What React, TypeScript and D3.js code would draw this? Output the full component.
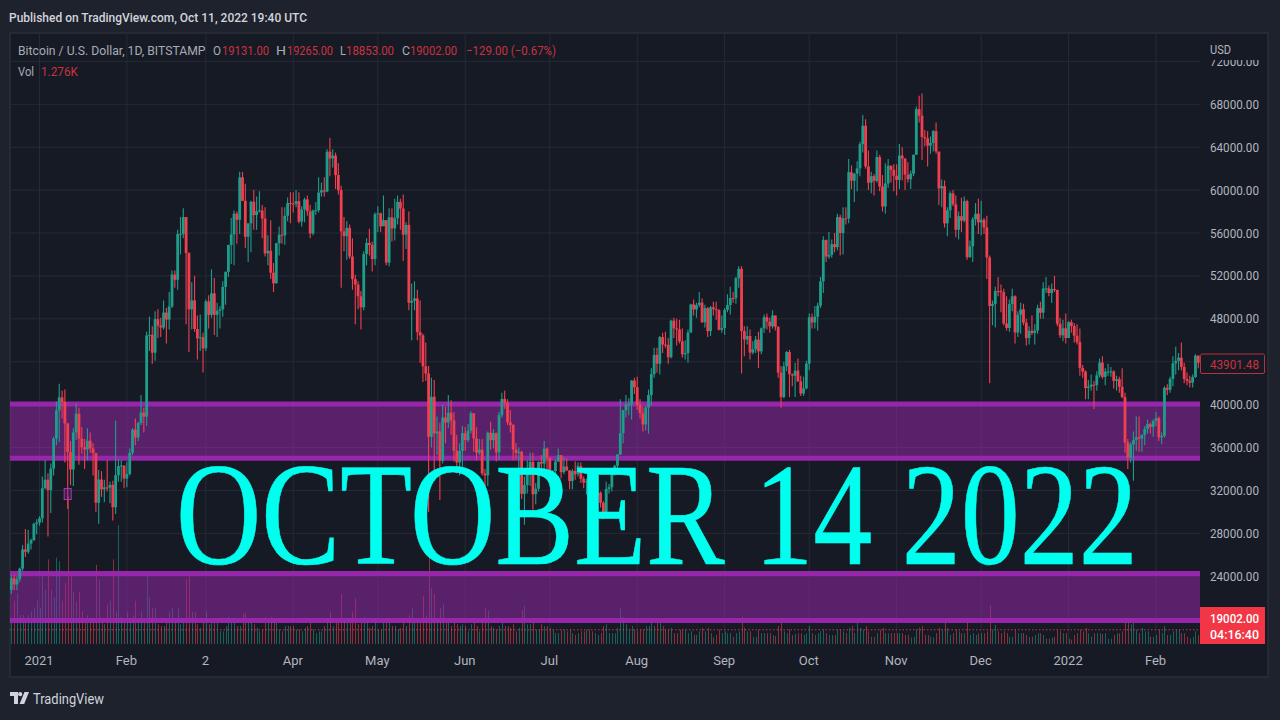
import * as d3 from "d3";
import { useEffect, useRef } from "react";

// daily candles BTC/USD, 22 Dec 2020 -> 16 Feb 2022, one line per month
const closes: number[] = [
  23810,23230,23730,24710,26490,26280,27040,27360,28880,28990,
  29400,32200,33000,32030,34030,36830,39450,40670,40240,38240,35570,33950,37400,39150,36830,36020,35820,36630,35910,35470,30850,33010,32100,32280,32260,32510,30430,33420,34270,34320,33110,
  33520,35510,37660,36930,38290,39260,38870,46450,46510,44840,47970,47360,47190,48580,47930,49150,52120,51640,55900,55900,57490,54120,48880,49710,47050,46180,46280,45240,
  49620,48370,50370,48370,48760,48880,50970,52380,54880,55860,57800,57230,61190,59000,55650,56900,58910,57670,58030,58100,57350,54100,54340,52300,51310,55050,55840,55780,57610,58790,58740,
  58720,58970,57060,58200,59130,58020,55950,58080,58130,59770,59980,59860,63580,62950,63220,61400,60000,56150,55700,56480,53800,51700,51190,50100,49070,54030,55070,54880,53570,57750,
  57830,56620,57200,53240,57470,56430,57380,58900,58280,55850,56750,49500,49680,49900,46760,46450,43570,42900,37000,40730,37300,37500,34770,38800,38330,39240,38530,35680,34620,35680,37340,
  36690,37570,39190,36850,35520,35800,33580,33400,37380,36690,37340,35550,39020,40520,40160,38350,38090,35820,35480,35600,31680,32500,33690,34660,31640,32160,34650,34500,35900,35040,
  33570,33810,34680,35290,33700,34230,33860,32870,33810,33510,34260,33090,32730,32820,31880,31390,31520,31780,30840,29790,32140,32290,33580,34290,35350,37340,39470,40010,40020,42240,41630,
  39970,39200,38150,39720,40890,42840,44640,43810,46290,45600,45570,44420,47830,47110,47010,45900,44690,44800,46720,49340,48870,49290,49510,47680,48990,46850,49070,48900,48810,46980,47130,
  48830,49280,49940,49920,51780,52660,46860,46070,46400,44850,45160,46060,44960,47110,48150,47740,47300,48310,47250,42970,40700,43570,44900,42840,42700,43170,42170,41030,41520,43820,
  48140,47660,48200,49220,51490,55340,53800,53970,54960,54680,57480,56000,57370,57360,61670,60880,61530,62030,64280,66000,62200,60690,61300,60860,63080,60330,58470,60620,62270,61890,61340,
  60950,63220,62940,61440,61010,61530,63300,67550,66940,64950,64830,64150,64400,65500,63600,60160,60370,56900,58120,59700,58680,56300,57570,57150,58970,53750,54750,57280,57800,56990,
  57230,56510,53720,49200,49390,50590,50580,50470,47560,47150,49370,50100,46720,48380,48880,47640,46200,46880,46680,46900,49000,48570,50830,50830,50400,50780,50700,47540,46460,47120,46210,
  47680,47330,46430,45840,43420,43080,41550,41670,41860,41820,42730,43920,42580,43080,43080,43090,42210,42370,41660,40700,36470,35050,36270,36690,36960,36830,37200,37740,38170,37920,38480,
  38740,36950,37080,41570,41380,42400,43850,44080,44370,43520,42390,42220,42050,42570,44560,43901,
];
const highs: number[] = [
  24100,24100,24000,24800,26900,28400,28300,27500,29000,29300,
  29600,33300,34800,33600,34500,37000,40300,41950,41300,41400,38300,36600,37800,40100,39700,37900,36800,37800,37400,36400,35500,33900,33800,33000,34800,32800,32900,38500,34900,34800,34300,
  34700,35900,37800,38700,38400,40900,39700,46800,48200,47300,48700,48900,48100,49700,49000,50500,52500,52500,56300,57500,58300,57500,54200,51400,52000,48300,48400,46700,
  49800,50200,52600,51800,49500,49200,51500,52400,54900,57400,58100,58000,61700,61700,60600,56900,59000,60000,59400,59900,58600,58400,55800,57200,53200,55100,56600,58400,58400,59300,59800,
  59800,60000,59800,58500,59300,59500,58600,58200,58900,61200,60700,61200,63800,64850,63800,63500,62500,60400,57500,57100,56800,55500,52100,51500,50600,54300,55500,56400,55200,57900,
  58500,57900,59500,57200,58300,58300,59200,59500,59200,59600,57000,58000,51300,51500,50700,49700,46600,45800,43600,42500,42300,38900,38300,40000,39800,40900,40400,39300,37200,36400,38000,
  37900,38200,39400,39200,37900,36800,36800,34000,37500,38400,37700,37400,39300,41100,41300,40500,39500,38200,36400,36000,35700,33300,34800,35500,35500,32700,34700,35300,36600,36000,
  35000,33900,34900,35900,35300,35100,35000,33900,34000,34700,34600,34600,33300,33100,33200,32200,32000,32400,31900,31000,32800,32600,33700,34400,35400,40500,39500,40900,40600,42300,42500,
  42600,40500,39800,39900,41400,43400,45300,45300,46400,46700,46800,46200,47900,48100,48000,47900,47100,46000,47000,49400,49800,49500,50500,49900,49300,49100,49200,49600,49600,48900,48300,
  49000,50300,51000,50500,51900,52900,52900,47300,47300,47000,45900,46400,46800,47200,48400,48500,48100,48800,48300,47300,43600,44000,45000,45100,42900,43900,44300,42700,42600,44100,
  48500,48500,49200,49500,51900,55700,55400,56100,55400,56000,57800,57700,58400,58400,62900,62300,61600,62700,64500,67000,66600,63700,61700,61500,63700,63300,61400,62500,62900,62300,62400,
  62400,64300,64000,63000,62600,61800,63300,67800,68800,69000,65600,65500,65000,65600,66300,63500,61000,60900,58400,59900,60000,59500,58000,59300,59400,59100,55300,57500,58800,59200,
  59000,57400,57600,53900,49700,51000,51900,51200,50800,50100,49800,50800,50200,48700,49500,49400,48000,47300,48300,47500,49300,49600,51400,51900,51100,51300,52000,50700,48100,47900,48500,
  47800,47900,47600,47500,47100,43700,43200,42300,42800,42200,43100,44300,44500,43400,43800,43500,43200,42700,42600,43400,41100,36800,36500,37500,38900,38900,37200,38000,38600,38300,38600,
  39300,38900,37400,41700,41900,42600,44500,45400,44800,45800,43900,43000,42700,42800,44700,44600,
];
const lows: number[] = [
  22350,22700,22700,23450,24500,25800,26100,26500,27300,27900,
  28700,29000,32100,27700,29900,33400,36200,36500,38700,34600,30300,32500,32400,36700,34400,35400,34000,34800,35500,33400,30000,28900,31400,30900,31900,30800,29200,29800,32800,32800,32200,
  32300,33400,35300,36200,36600,38100,37400,38000,45000,43800,44100,46200,46300,47000,45700,47000,49000,50900,50700,54000,55500,47500,44900,47000,46800,44200,45000,43000,
  45000,47100,48100,46500,46300,47100,48200,49300,51900,53100,53000,55000,55900,59000,54600,53300,54200,56300,56300,57900,55500,53800,53000,51700,50500,51300,53900,55000,54900,57100,56900,
  57900,58400,56900,56600,57000,57600,55500,55800,57700,57900,59400,59400,59800,61300,62100,60100,59600,50900,54300,53500,53600,50700,47500,48900,47000,48800,53000,53900,52400,53000,
  56100,56100,56700,53000,52900,55200,55300,56800,56300,53400,54500,48800,46000,48800,46000,43900,42100,42200,30000,36000,33500,35300,31100,34500,36400,37800,37200,34700,33600,33400,34200,
  35700,36500,37300,35600,34800,35300,33400,31000,32400,35800,35900,34700,34800,38800,39600,38100,37400,34800,34900,33400,31200,28800,31700,32400,30200,30700,31900,33900,34000,34000,
  32700,32700,33000,34700,33100,33500,33800,32100,32100,33000,33300,32700,32200,31600,31500,31000,31100,31100,30400,29300,29500,31700,31900,33400,33800,35300,36400,38800,39000,38600,41000,
  39500,38700,37500,37600,37300,39900,42500,43000,42800,44800,45300,43800,44300,46200,45500,45700,44400,44200,43900,46700,48300,48100,49100,47600,47200,46300,46400,48300,47900,46900,46700,
  46500,48600,48400,49500,49400,50900,42900,44500,45600,44200,44700,44800,43400,44700,46700,47000,46700,47100,46900,42500,39700,40600,43100,40700,41700,40700,42100,40800,40800,41400,
  43200,47100,47100,46900,49000,50400,53300,53600,53700,54200,54400,53900,54000,56800,56900,60100,58900,59900,61300,63500,62000,60000,59700,59500,60700,59900,58000,57800,60200,60700,59900,
  59500,60100,60900,60000,60700,60100,61300,63300,66300,62800,64100,62200,63400,63600,63400,58600,58400,56500,55700,57400,58500,55600,55400,56100,57000,53500,53700,53300,56700,55900,
  55800,55900,51700,42000,47400,47200,50100,48600,47400,46900,46800,48700,45700,46300,46600,47400,45500,45600,46500,45600,46600,48000,48000,50400,50100,49500,50500,47300,46200,45900,45700,
  46200,46700,45800,45600,42700,42500,40500,40500,41300,39600,41300,42500,42400,41800,42700,42600,41500,41300,41100,40600,35500,34000,34600,32900,35700,35600,35600,36200,37300,37300,37000,
  38000,36600,36300,36900,40900,41100,41700,42800,43200,43200,42000,41800,41600,41600,42500,43400,
];
// thousand BTC per day
const volumes: number[] = [
  7,12,14,8,8,7,8,9,10,12,
  10,18.7,15,23.5,15,13,24,23,12,17,41,19,14.5,11.7,14.5,9,7,8,6.5,7,22,18,7,5.5,11,12,23.5,9,33,7.5,6,
  9,7,8,12,6,9,6,20,13,10,10,5.5,5,5,6,9,10,6.5,10,5.5,7,18,19,9,9,5.5,4.5,6,
  9,5.5,6,6,6.5,3.5,3.5,5,7.5,6,6,5,5,8.5,8.5,7,6,5.5,4.5,3.5,4,7.5,6.5,7.5,7,6,4,3.5,5,5,5,
  5,4,4,3.5,4.5,5,6,4,3,3.5,3.5,5,7,9,5,7,6,14,6.5,7,6.5,9,12.7,5.5,6,7.5,6,4.5,5,7,
  4,4,6,7,7,5,5,4,4.5,7,5,8,10,6,6,6.5,13.4,8,26,15.5,14,7,10,11,6,6.5,5,7,5.5,5,5.5,
  5,3.5,5.5,6.5,5,3.5,6.5,10,9.3,5,4.5,4,5,6.5,5,5,4.5,5.5,3.5,4.5,9.4,10.6,5.5,5.5,6.5,4,4,5.5,5,5,
  4.5,4,3,3,4,4,3.5,4,3,2.5,3,3.5,3.5,4,4,3.5,3,2.5,3,5,5.5,3,3,3,4.5,10,7.5,5.5,4,5,4,
  3.5,4,4,5,5,6,5,6,6,5,4,4,4.5,3,3,4,4,4,3,3.5,2.5,2.5,3.5,4.5,3.5,4.5,3,1.8,2.5,4,3,
  3.5,3,3,2,3,3.5,7.6,4.5,3.5,3.5,2,2,4,3,3,3,3,2.5,2.2,5,6.2,3.5,3,4,2.5,2.8,3,3,2.5,3,
  5,3,2.5,3,3.5,4,3,2.5,2.5,2.5,4,4,3.5,3,4.5,5,3,6.5,4.5,4,5,3.5,2,2,3,4,4.5,3,3,3,3,
  3,3,3,2.5,2.5,1.8,2,4,4.5,5,2.5,2.5,2,1.8,3,4.5,4,6.8,4.5,2.5,3,4,3.5,3,3,6.2,2.5,3,2.5,3,
  3,3,3.5,10.8,4,5.3,3.5,3,3.5,3,2,2,4,3,3,3,2.5,2,2,2.5,3,3,2.5,1.5,1.5,1.8,2,4,3.5,3,3,
  1.5,1.2,2.5,3,4,3.5,4.5,3,2,3,3,3,2.8,3,1.5,1.5,2.5,3,3,3.5,6,6.8,5.5,6.8,4,3,4.5,3.5,3.5,2,2,
  2.5,4,3,5,2.5,2.5,3.5,4,4,3,3,2,1.5,2,3.5,2.5,
];
const firstOpen = 22720;
const firstDay = new Date(2020, 11, 22);

const priceTicks = [72000, 68000, 64000, 60000, 56000, 52000, 48000, 44000, 40000, 36000, 32000, 28000, 24000];
const timeTickDates = [
  new Date(2021, 0, 1), new Date(2021, 1, 1), new Date(2021, 2, 1), new Date(2021, 3, 1),
  new Date(2021, 4, 1), new Date(2021, 5, 1), new Date(2021, 6, 1), new Date(2021, 7, 1),
  new Date(2021, 8, 1), new Date(2021, 9, 1), new Date(2021, 10, 1), new Date(2021, 11, 1),
  new Date(2022, 0, 1), new Date(2022, 1, 1),
];
const timeTickLabels = ["2021", "Feb", "2", "Apr", "May", "Jun", "Jul", "Aug", "Sep", "Oct", "Nov", "Dec", "2022", "Feb"];

// [top, bottom] price of each drawn rectangle
const zones = [[40050, 35000], [24250, 19870]];
const lastClose = 19002;

const FONT = "Roboto, sans-serif";
const UP = "#1f9d8b";
const DOWN = "#f23f4f";
const PURPLE = "#9c27b0";

export default function App() {
  const ref = useRef<SVGSVGElement>(null);

  useEffect(() => {
    const svg = d3.select(ref.current);
    svg.selectAll("*").remove();

    const left = 10, plotRight = 1200, paneRight = 1268, paneTop = 33, paneBottom = 677, volBase = 644;

    const x = d3.scaleTime()
      .domain([new Date(2021, 0, 1), new Date(2022, 1, 1)])
      .range([39.5, 1156]);
    const y = d3.scaleLinear().domain([68000, 44000]).range([104.3, 361.7]);
    const yVol = d3.scaleLinear().domain([0, 40]).range([volBase, volBase - 144]);

    const candles = closes.map((c, i) => ({
      date: d3.timeDay.offset(firstDay, i),
      open: i === 0 ? firstOpen : closes[i - 1],
      close: c,
      high: highs[i],
      low: lows[i],
      vol: volumes[i],
    }));

    svg.append("rect").attr("width", 1280).attr("height", 720).attr("fill", "#1e222d");
    svg.append("rect")
      .attr("x", left).attr("y", paneTop)
      .attr("width", paneRight - left).attr("height", paneBottom - paneTop)
      .attr("fill", "#161a25").attr("stroke", "#2a2e39").attr("stroke-width", 1.5);

    const defs = svg.append("defs");
    defs.append("clipPath").attr("id", "axisClip")
      .append("rect").attr("x", plotRight).attr("y", 60).attr("width", 70).attr("height", 600);
    defs.append("clipPath").attr("id", "plotClip")
      .append("rect").attr("x", left).attr("y", paneTop).attr("width", plotRight - left).attr("height", volBase - paneTop);

    // grid
    svg.append("g").selectAll("line").data(priceTicks).enter().append("line")
      .attr("x1", left).attr("x2", plotRight)
      .attr("y1", (d) => y(d)).attr("y2", (d) => y(d))
      .attr("stroke", "#262a35");
    svg.append("g").selectAll("line").data(timeTickDates).enter().append("line")
      .attr("x1", (d) => x(d)).attr("x2", (d) => x(d))
      .attr("y1", paneTop).attr("y2", volBase)
      .attr("stroke", "#262a35");

    const plot = svg.append("g").attr("clip-path", "url(#plotClip)");

    // volume sits under the rectangles
    plot.append("g").selectAll("line").data(candles).enter().append("line")
      .attr("x1", (d) => Math.round(x(d.date)) + 0.5).attr("x2", (d) => Math.round(x(d.date)) + 0.5)
      .attr("y1", volBase).attr("y2", (d) => yVol(d.vol))
      .attr("stroke", (d) => (d.close >= d.open ? UP : DOWN))
      .attr("stroke-opacity", 0.55)
      .attr("stroke-width", 1);

    // rectangles
    const zone = plot.append("g").selectAll("g").data(zones).enter().append("g");
    zone.append("rect")
      .attr("x", left).attr("width", plotRight - left)
      .attr("y", (d) => y(d[0])).attr("height", (d) => y(d[1]) - y(d[0]))
      .attr("fill", PURPLE).attr("fill-opacity", 0.5);
    zone.selectAll("line").data((d) => d).enter().append("line")
      .attr("x1", left).attr("x2", plotRight)
      .attr("y1", (d) => y(d)).attr("y2", (d) => y(d))
      .attr("stroke", PURPLE).attr("stroke-opacity", 0.95).attr("stroke-width", 5);

    // candles
    const candle = plot.append("g").selectAll("g").data(candles).enter().append("g")
      .attr("fill", (d) => (d.close >= d.open ? UP : DOWN))
      .attr("stroke", (d) => (d.close >= d.open ? UP : DOWN));
    candle.append("line")
      .attr("x1", (d) => x(d.date)).attr("x2", (d) => x(d.date))
      .attr("y1", (d) => y(d.high)).attr("y2", (d) => y(d.low))
      .attr("stroke-width", 1.1);
    candle.append("rect")
      .attr("x", (d) => x(d.date) - 1.4).attr("width", 2.8)
      .attr("y", (d) => y(Math.max(d.open, d.close)))
      .attr("height", (d) => Math.max(1, Math.abs(y(d.open) - y(d.close))))
      .attr("stroke", "none");

    // small marker on the Jan 11 bar
    svg.append("rect")
      .attr("x", x(new Date(2021, 0, 11)) - 3.5).attr("y", y(31660) - 5.5)
      .attr("width", 7).attr("height", 11)
      .attr("fill", PURPLE).attr("fill-opacity", 0.25)
      .attr("stroke", "#a23fb5").attr("stroke-width", 1);

    // last price line
    svg.append("line")
      .attr("x1", left).attr("x2", plotRight)
      .attr("y1", y(lastClose)).attr("y2", y(lastClose))
      .attr("stroke", DOWN).attr("stroke-opacity", 0.8).attr("stroke-dasharray", "1.5 2");

    // price axis
    const axisLabels = svg.append("g").attr("clip-path", "url(#axisClip)");
    axisLabels.selectAll("text").data(priceTicks).enter().append("text")
      .attr("x", 1210).attr("y", (d) => y(d))
      .attr("dy", "0.35em")
      .attr("font-family", FONT).attr("font-size", 13)
      .attr("textLength", 49).attr("lengthAdjust", "spacingAndGlyphs")
      .attr("fill", "#b2b5be")
      .text((d) => d3.format(".2f")(d));

    svg.append("text").attr("x", 1210).attr("y", 53.5)
      .attr("font-family", FONT).attr("font-size", 13).attr("fill", "#b2b5be")
      .attr("textLength", 21).attr("lengthAdjust", "spacingAndGlyphs").text("USD");

    // time axis
    svg.append("g").selectAll("text").data(timeTickDates).enter().append("text")
      .attr("x", (d) => x(d) - 0.5).attr("y", 664.5)
      .attr("text-anchor", "middle")
      .attr("font-family", FONT).attr("font-size", 13)
      .attr("fill", "#b2b5be")
      .text((_, i) => timeTickLabels[i]);

    // price tags
    svg.append("rect").attr("x", plotRight).attr("y", 607).attr("width", 65).attr("height", 37).attr("fill", "#f23645");
    svg.append("text").attr("x", 1210).attr("y", 623)
      .attr("font-family", FONT).attr("font-size", 13).attr("font-weight", 500).attr("fill", "#ffffff")
      .attr("textLength", 49).attr("lengthAdjust", "spacingAndGlyphs").text("19002.00");
    svg.append("text").attr("x", 1210).attr("y", 639)
      .attr("font-family", FONT).attr("font-size", 13).attr("font-weight", 500).attr("fill", "#ffffff")
      .attr("textLength", 49).attr("lengthAdjust", "spacingAndGlyphs").text("04:16:40");
    svg.append("rect").attr("x", 1200.5).attr("y", 354).attr("width", 64).attr("height", 19.5).attr("rx", 1.5)
      .attr("fill", "#161a25").attr("stroke", "#b8313f");
    svg.append("text").attr("x", 1210).attr("y", 368.5)
      .attr("font-family", FONT).attr("font-size", 13).attr("fill", "#c9323f")
      .attr("textLength", 49).attr("lengthAdjust", "spacingAndGlyphs").text("43901.48");

    // header + legend
    const label = (tx: number, ty: number, w: number, s: string, fill: string) =>
      svg.append("text").attr("x", tx).attr("y", ty)
        .attr("font-family", FONT).attr("font-size", 13).attr("fill", fill)
        .attr("textLength", w).attr("lengthAdjust", "spacingAndGlyphs").text(s);

    label(9, 22, 298, "Published on TradingView.com, Oct 11, 2022 19:40 UTC", "#d1d4dc").attr("font-weight", 500);
    const grey = "#a9acb5", red = "#c9323f";
    label(18, 55, 187.5, "Bitcoin / U.S. Dollar, 1D, BITSTAMP", grey).attr("font-size", 12);
    label(213, 55, 8, "O", grey);
    label(222, 55, 47, "19131.00", red);
    label(276, 55, 10, "H", grey);
    label(287, 55, 46, "19265.00", red);
    label(340, 55, 6, "L", grey);
    label(346, 55, 48, "18853.00", red);
    label(402, 55, 8, "C", grey);
    label(410, 55, 47, "19002.00", red);
    label(466, 55, 90, "\u2212129.00 (\u22120.67%)", red);
    label(18, 76, 16, "Vol", grey);
    label(41, 76, 37, "1.276K", red);

    // TradingView logo
    const logo = svg.append("g").attr("fill", "#d1d4dc");
    logo.append("path").attr("d", "M10 692h8v12h-4v-8h-4z");
    logo.append("circle").attr("cx", 20.2).attr("cy", 694.2).attr("r", 2.1);
    logo.append("path").attr("d", "M24.5 692h4.5l-4.8 12h-4.6z");
    label(33, 704, 71, "TradingView", "#d1d4dc").attr("font-size", 15);

    // big overlay date, squeezed sideways like the thumbnail it came from
    svg.append("text")
      .attr("transform", "translate(176,564) scale(0.803,1)")
      .attr("font-family", "'Liberation Serif', serif").attr("font-size", 147)
      .attr("fill", "#00ffee").attr("stroke", "#00ffee").attr("stroke-width", 0.6)
      .text("OCTOBER 14 2022");
  }, []);

  return <svg ref={ref} width={1280} height={720} style={{ position: "absolute", left: 0, top: 0, display: "block" }} />;
}
